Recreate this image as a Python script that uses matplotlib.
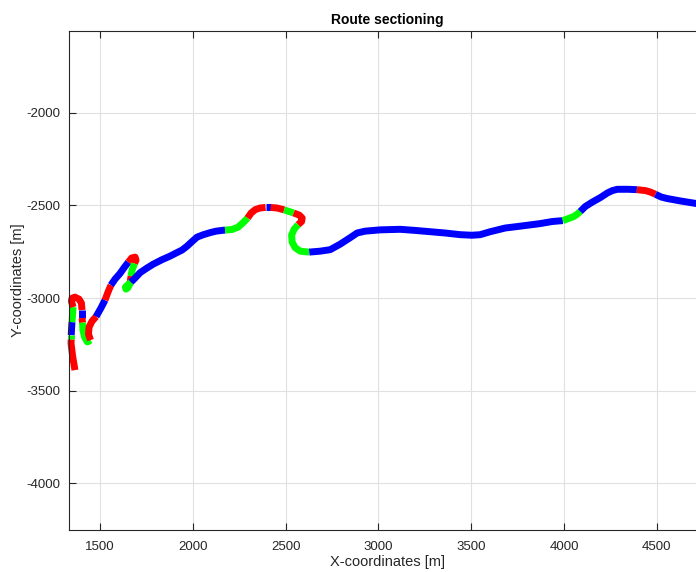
import numpy as np
import matplotlib
matplotlib.use("Agg")
import matplotlib.pyplot as plt

# route coordinates [m]
route_x = [1365, 1353, 1344, 1345,
           1345,
           1347, 1349,
           1352, 1355,
           1346, 1349, 1365, 1387, 1400, 1403,
           1403, 1403,
           1406,
           1408, 1417, 1432, 1449,
           1438, 1441, 1457, 1479,
           1505, 1527,
           1543, 1559,
           1581, 1608, 1632, 1653,
           1670, 1689, 1694, 1686,
           1673, 1667,
           1662,
           1651, 1640, 1637, 1651, 1667,
           1689, 1716, 1753, 1787, 1834, 1877, 1910, 1942, 1969, 1996, 2023,
           2057, 2093, 2125, 2174,
           2212, 2244, 2271, 2295,
           2314, 2336, 2362, 2392,
           2419,
           2454, 2492,
           2519, 2543,
           2573, 2589, 2586, 2567,
           2546, 2532, 2535, 2551, 2578, 2627,
           2686, 2740, 2794, 2848, 2885, 2928, 3009, 3117, 3198, 3279, 3360,
           3441, 3504, 3548, 3602, 3683, 3764, 3872, 3936, 3993,
           4023, 4052, 4071, 4087,
           4114, 4152, 4195, 4233, 4260, 4287, 4346, 4392,
           4438, 4465, 4492,
           4524, 4556, 4627, 4713, 4799]
route_y = [-3389, -3317, -3245, -3223,
           -3200,
           -3162, -3130,
           -3092, -3049,
           -3017, -3001, -2995, -3006, -3027, -3065,
           -3065, -3108,
           -3133,
           -3173, -3211, -3237, -3227,
           -3195, -3157, -3125, -3100,
           -3054, -3011,
           -2968, -2930,
           -2898, -2867, -2833, -2806,
           -2784, -2779, -2795, -2814,
           -2849, -2882,
           -2919,
           -2944, -2952, -2941, -2928, -2914,
           -2892, -2863, -2838, -2817, -2793, -2774, -2757, -2741, -2720, -2695, -2671,
           -2658, -2647, -2639, -2633,
           -2630, -2617, -2593, -2568,
           -2541, -2523, -2514, -2511,
           -2511,
           -2514, -2524,
           -2533, -2541,
           -2552, -2568, -2587, -2604,
           -2628, -2660, -2698, -2728, -2747, -2752,
           -2747, -2739, -2709, -2674, -2649, -2639, -2632, -2629, -2635, -2642, -2649,
           -2658, -2661, -2658, -2642, -2622, -2612, -2598, -2587, -2582,
           -2571, -2560, -2547, -2533,
           -2506, -2482, -2458, -2433, -2420, -2413, -2413, -2415,
           -2420, -2428, -2440,
           -2455, -2463, -2476, -2490, -2506]

# last point index of each section and its class colour
section_end = [3, 4, 6, 8, 14, 16, 17, 21, 25, 27, 29, 33, 37, 39, 40, 45,
               60, 64, 68, 69, 71, 73, 77, 83, 103, 107, 115, 118, 123]
section_col = ['r', 'g', 'b', 'g', 'r', 'b', 'r', 'g', 'r', 'b', 'r', 'b', 'r', 'g', 'r', 'g',
               'b', 'g', 'r', 'b', 'r', 'g', 'r', 'g', 'b', 'g', 'b', 'r', 'b']
colours = {'r': '#ff0000', 'g': '#00ff00', 'b': '#0000ff'}

plt.rcParams['font.family'] = ['Liberation Sans', 'DejaVu Sans']
plt.rcParams['axes.unicode_minus'] = False

fig = plt.figure(figsize=(6.96, 5.72), dpi=100)
ax = fig.add_axes([69/696, 42/572, 636/696, 499.3/572])

start = 0
for end, c in zip(section_end, section_col):
    ax.plot(route_x[start:end+1], route_y[start:end+1], color=colours[c],
            lw=5, solid_capstyle='butt', solid_joinstyle='round', clip_on=False)
    start = end

ax.set_xlim(1333, 4759)
ax.set_ylim(-4252, -1557)
ax.set_xticks(np.arange(1500, 4501, 500))
ax.set_yticks(np.arange(-4000, -1999, 500))
ax.grid(True, color='#e0e0e0', lw=0.8)
ax.set_axisbelow(True)
ax.tick_params(direction='in', length=5, width=0.8, colors='#262626',
               labelsize=9.5, top=True)
ax.tick_params(axis='x', pad=8)
ax.tick_params(axis='y', pad=6)
for s in ax.spines.values():
    s.set_color('#262626')
    s.set_linewidth(0.8)

ax.set_title('Route sectioning', fontsize=10, fontweight='bold', pad=5)
ax.set_xlabel('X-coordinates [m]', fontsize=10.5, color='#262626', labelpad=1.5)
ax.set_ylabel('Y-coordinates [m]', fontsize=10.5, color='#262626', labelpad=1)

fig.savefig('out.png', dpi=100)
